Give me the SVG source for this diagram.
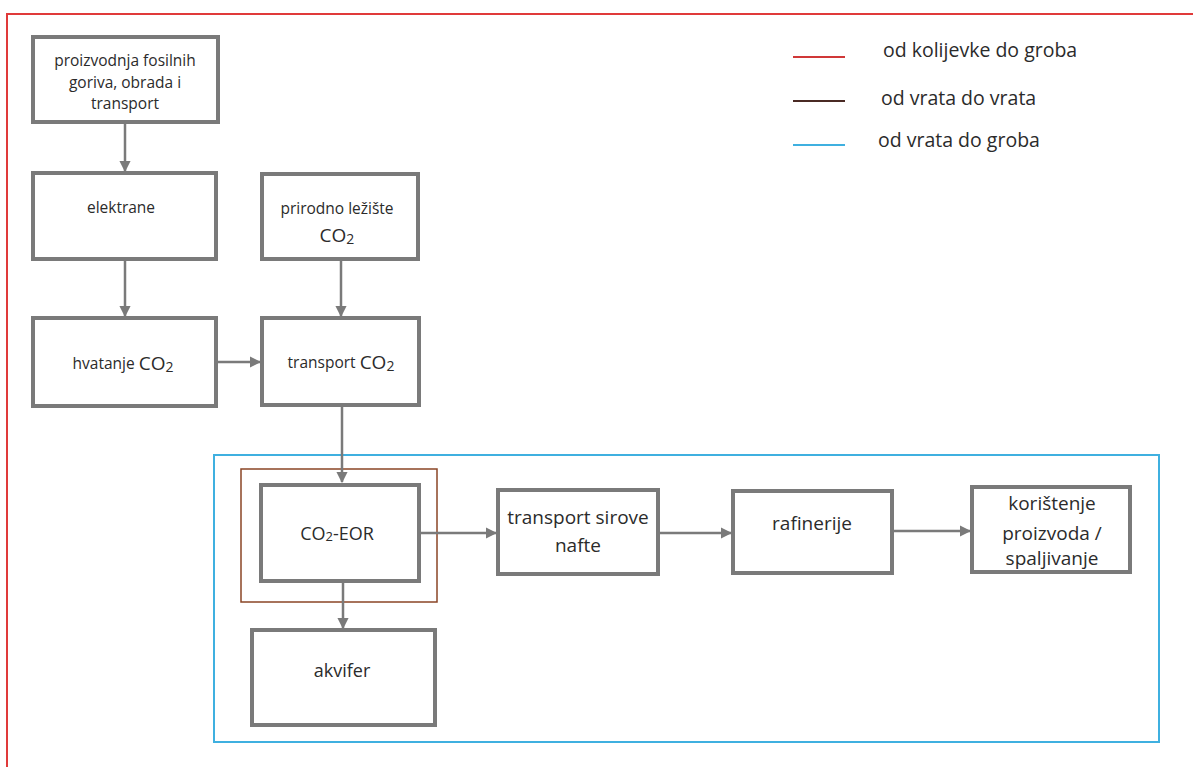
<svg xmlns="http://www.w3.org/2000/svg" width="1193" height="767" viewBox="0 0 1193 767">
  <style>
    .box { fill: #ffffff; stroke: #7a7a7a; stroke-width: 4; }
    .conn { stroke: #7a7a7a; stroke-width: 2.5; fill: none; marker-end: url(#arr); }
    .t { font-family: "Open Sans", "Noto Sans", sans-serif; fill: #2b2b2b; text-anchor: middle; dominant-baseline: central; }
    .s14 { font-size: 15.5px; }
    .s17 { font-size: 19px; }
    .leg { font-family: "Open Sans", "Noto Sans", sans-serif; font-size: 19.5px; fill: #2b2b2b; dominant-baseline: central; }
  </style>
  <defs>
    <marker id="arr" viewBox="0 0 10 10" refX="9" refY="5" markerWidth="4.5" markerHeight="4.5" orient="auto" markerUnits="strokeWidth">
      <path d="M0,0 L10,5 L0,10 z" fill="#7a7a7a"/>
    </marker>
  </defs>
  <rect x="0" y="0" width="1193" height="767" fill="#ffffff"/>

  <!-- scope frames -->
  <g id="scope-cradle-grave">
    <rect x="7" y="14" width="1220" height="800" fill="none" stroke="#e03a3a" stroke-width="2"/>
  </g>
  <g id="scope-gate-grave">
    <rect x="214" y="455" width="945" height="287" fill="none" stroke="#3fb0e0" stroke-width="2"/>
  </g>
  <g id="scope-gate-gate">
    <rect x="241" y="469" width="196" height="133" fill="none" stroke="#8a4526" stroke-width="1.5"/>
  </g>

  <!-- legend -->
  <g id="legend">
    <line x1="793" y1="57" x2="845" y2="57" stroke="#d03838" stroke-width="2"/>
    <text class="leg" x="883" y="49">od kolijevke do groba</text>
    <line x1="793" y1="101" x2="845" y2="101" stroke="#4a2a24" stroke-width="2"/>
    <text class="leg" x="881" y="97">od vrata do vrata</text>
    <line x1="793" y1="145" x2="845" y2="145" stroke="#3fb0e0" stroke-width="2"/>
    <text class="leg" x="878" y="139">od vrata do groba</text>
  </g>

  <!-- connectors -->
  <g id="connectors">
    <line class="conn" x1="125" y1="124" x2="125" y2="171"/>
    <line class="conn" x1="125" y1="261" x2="125" y2="316"/>
    <line class="conn" x1="341" y1="261" x2="341" y2="316"/>
    <line class="conn" x1="218" y1="362" x2="260" y2="362"/>
    <line class="conn" x1="342" y1="407" x2="342" y2="482"/>
    <line class="conn" x1="343" y1="583" x2="343" y2="628"/>
    <line class="conn" x1="421" y1="533" x2="496" y2="533"/>
    <line class="conn" x1="660" y1="533" x2="731" y2="533"/>
    <line class="conn" x1="894" y1="531" x2="970" y2="531"/>
  </g>

  <!-- nodes -->
  <g id="n-proizvodnja">
    <rect class="box" x="33" y="37" width="185" height="85"/>
    <text class="t s14" x="125" y="60">proizvodnja fosilnih</text>
    <text class="t s14" x="125" y="82">goriva, obrada i</text>
    <text class="t s14" x="125" y="103">transport</text>
  </g>
  <g id="n-elektrane">
    <rect class="box" x="33" y="173" width="183" height="86"/>
    <text class="t s14" x="121" y="207">elektrane</text>
  </g>
  <g id="n-hvatanje">
    <rect class="box" x="33" y="318" width="183" height="88"/>
    <text class="t s14" x="123" y="363">hvatanje <tspan font-size="19">CO</tspan><tspan font-size="14" dy="3">2</tspan></text>
  </g>
  <g id="n-prirodno">
    <rect class="box" x="262" y="174" width="156" height="85"/>
    <text class="t s14" x="337" y="208">prirodno ležište</text>
    <text class="t" x="337" y="235" font-size="19">CO<tspan font-size="14" dy="3">2</tspan></text>
  </g>
  <g id="n-transport-co2">
    <rect class="box" x="262" y="318" width="157" height="87"/>
    <text class="t s14" x="341" y="362">transport <tspan font-size="19">CO</tspan><tspan font-size="14" dy="3">2</tspan></text>
  </g>
  <g id="n-co2-eor">
    <rect class="box" x="261" y="485" width="158" height="96"/>
    <text class="t" x="337" y="533" font-size="18">CO<tspan font-size="13" dy="3">2</tspan><tspan dy="-3">-EOR</tspan></text>
  </g>
  <g id="n-akvifer">
    <rect class="box" x="252" y="630" width="183" height="95"/>
    <text class="t" x="342" y="670" font-size="18">akvifer</text>
  </g>
  <g id="n-transport-nafte">
    <rect class="box" x="498" y="490" width="160" height="84"/>
    <text class="t s17" x="578" y="517">transport sirove</text>
    <text class="t s17" x="578" y="545">nafte</text>
  </g>
  <g id="n-rafinerije">
    <rect class="box" x="733" y="491" width="159" height="82"/>
    <text class="t s17" x="812" y="523">rafinerije</text>
  </g>
  <g id="n-koristenje">
    <rect class="box" x="972" y="487" width="158" height="85"/>
    <text class="t s17" x="1052" y="503">korištenje</text>
    <text class="t s17" x="1052" y="533">proizvoda /</text>
    <text class="t s17" x="1052" y="558">spaljivanje</text>
  </g>
</svg>
